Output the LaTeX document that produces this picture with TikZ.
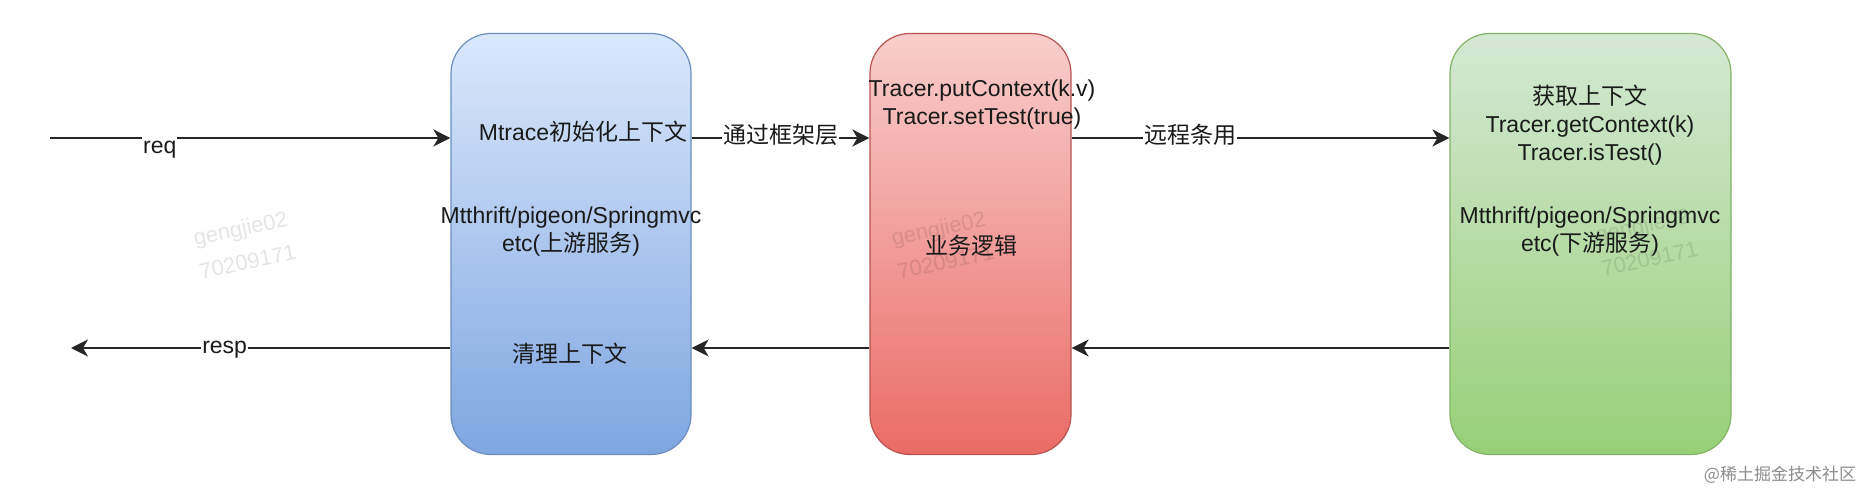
\documentclass[tikz,border=0pt]{standalone}
\usepackage{fontspec}
\setmainfont{Liberation Sans}
\newfontfamily\cjk{Noto Sans CJK SC}
\usetikzlibrary{arrows.meta}
\definecolor{txt}{HTML}{1A1A1A}
\definecolor{linecol}{HTML}{262626}
\definecolor{blueTop}{HTML}{DAE8FC}
\definecolor{blueBot}{HTML}{7EA6E0}
\definecolor{blueLine}{HTML}{6C8EBF}
\definecolor{redTop}{HTML}{F8CECC}
\definecolor{redBot}{HTML}{EA6B66}
\definecolor{redLine}{HTML}{B85450}
\definecolor{greenTop}{HTML}{D5E8D4}
\definecolor{greenBot}{HTML}{97D077}
\definecolor{greenLine}{HTML}{82B366}
\tikzset{
  stagebox/.style={line width=1.2pt, rounded corners=40pt, minimum height=421pt, inner sep=0pt, shading=axis, shading angle=0},
  boxtext/.style={text=txt, align=center, inner sep=0pt, font=\fontsize{23}{28}\selectfont},
  flow/.style={draw=linecol, line width=1.9pt, -{Stealth[length=17pt,width=17pt,inset=5pt]}},
  flowlabel/.style={fill=white, text=txt, inner sep=1pt, text height=17pt, text depth=5pt, font=\fontsize{23}{28}\selectfont},
  watermark/.style={text=black, text opacity=0.1, align=center, rotate=12, inner sep=0pt, font=\fontsize{22}{34}\selectfont},
}
\begin{document}
\begin{tikzpicture}[x=1pt,y=-1pt]
\useasboundingbox[fill=white] (0,0) rectangle (1876,502);

% boxes
\node[stagebox, minimum width=240pt, draw=blueLine, top color=blueTop, bottom color=blueBot] (blue) at (571,244) {};
\node[stagebox, minimum width=201pt, draw=redLine, top color=redTop, bottom color=redBot] (red) at (970.5,244) {};
\node[stagebox, minimum width=281pt, draw=greenLine, top color=greenTop, bottom color=greenBot] (green) at (1590.5,244) {};

% texts in blue box
\node[boxtext] (b1) at (583,132) {Mtrace{\cjk 初始化上下文}};
\node[boxtext] (b2) at (571,232) {Mtthrift/pigeon/Springmvc\\etc({\cjk 上游服务})};
\node[boxtext] (b3) at (570,354) {\cjk 清理上下文};

% texts in red box
\node[boxtext] (r1) at (982,105) {Tracer.putContext(k.v)\\Tracer.setTest(true)};
\node[boxtext] (r2) at (971,246) {\cjk 业务逻辑};

% texts in green box
\node[boxtext] (g1) at (1590,125) {{\cjk 获取上下文}\\Tracer.getContext(k)\\Tracer.isTest()};
\node[boxtext] (g2) at (1590,232) {Mtthrift/pigeon/Springmvc\\etc({\cjk 下游服务})};

% connectors
\coordinate (reqstart) at (50,138);
\coordinate (respend) at (71,348);
\draw[flow] (reqstart) -- node[flowlabel, pos=0.274, anchor=north, yshift=3pt] (reqlbl) {req} (reqstart -| blue.west);
\draw[flow] (blue.east |- reqstart) -- node[flowlabel, midway] (l1) {\cjk 通过框架层} (red.west |- reqstart);
\draw[flow] (red.east |- reqstart) -- node[flowlabel, pos=0.314] (l2) {\cjk 远程条用} (green.west |- reqstart);
\draw[flow] (green.west |- respend) -- (red.east |- respend);
\draw[flow] (red.west |- respend) -- (blue.east |- respend);
\draw[flow] (blue.west |- respend) -- node[flowlabel, pos=0.595] (resplbl) {resp} (respend);

% watermarks
\node[watermark] (wm1) at (244,245) {gengjie02\\70209171};
\node[watermark] (wm2) at (942,245) {gengjie02\\70209171};
\node[watermark] (wm3) at (1646,242) {gengjie02\\70209171};
\node[text=black!45, inner sep=0pt, font=\cjk\fontsize{17}{20}\selectfont] (credit) at (1780,475) {@稀土掘金技术社区};
\end{tikzpicture}
\end{document}
